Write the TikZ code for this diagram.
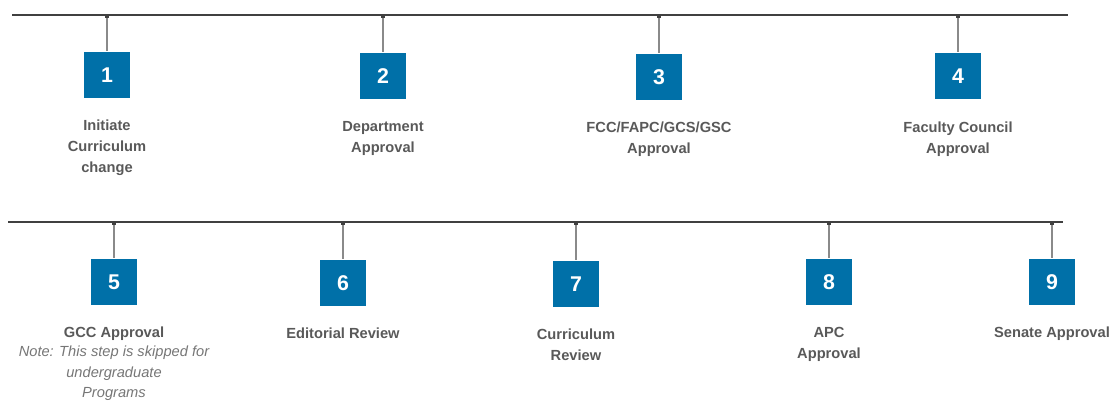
\documentclass[tikz,border=0pt]{standalone}
\usepackage{fontspec}
\setmainfont{Liberation Sans}
\usetikzlibrary{positioning}

\definecolor{stepblue}{HTML}{0070A8}
\definecolor{labelgray}{HTML}{595959}
\definecolor{notegray}{HTML}{767676}
\definecolor{axisgray}{HTML}{404040}
\definecolor{hanggray}{HTML}{8A8A8A}

\begin{document}
\begin{tikzpicture}[x=0.75pt,y=-0.75pt,
    stepbox/.style={rectangle, fill=stepblue, minimum size=35pt, inner sep=0pt,
      text=white, font=\bfseries\fontsize{16}{18}\selectfont},
    steplabel/.style={align=center, inner sep=0pt, text=labelgray,
      font=\bfseries\fontsize{11}{15.75}\selectfont},
    notelabel/.style={align=center, inner sep=0pt, text=notegray,
      font=\itshape\fontsize{11}{15.25}\selectfont},
    tick/.style={rectangle, fill=axisgray, minimum size=3pt, inner sep=0pt},
    axis/.style={draw=axisgray, line width=1.5pt},
    hang/.style={draw=hanggray, line width=1pt}]
    \useasboundingbox (0,0) rectangle (1113,401);

    % first row
    \coordinate (topstart) at (12,15);
    \coordinate (topend) at (1068,15);
    \draw[axis] (topstart) -- (topend);

    \node(s1) [stepbox] at (107,75) {1};
    \node(s2) [stepbox] at (383,76) {2};
    \node(s3) [stepbox] at (659,77) {3};
    \node(s4) [stepbox] at (958,76) {4};

    \node(t1) [tick] at (107,16) {};
    \node(t2) [tick] at (383,16) {};
    \node(t3) [tick] at (659,16) {};
    \node(t4) [tick] at (958,16) {};

    \node(l1) [steplabel, below=16pt of s1] {Initiate\\Curriculum\\change};
    \node(l2) [steplabel, below=16.5pt of s2] {Department\\Approval};
    \node(l3) [steplabel, below=16pt of s3] {FCC/FAPC/GCS/GSC\\Approval};
    \node(l4) [steplabel, below=16.5pt of s4] {Faculty Council\\Approval};

    \draw[hang] (t1) -- (s1.north);
    \draw[hang] (t2) -- (s2.north);
    \draw[hang] (t3) -- (s3.north);
    \draw[hang] (t4) -- (s4.north);

    % second row
    \coordinate (botstart) at (8,222);
    \coordinate (botend) at (1063,222);
    \draw[axis] (botstart) -- (botend);

    \node(s5) [stepbox] at (114,282) {5};
    \node(s6) [stepbox] at (343,283) {6};
    \node(s7) [stepbox] at (576,284) {7};
    \node(s8) [stepbox] at (829,282) {8};
    \node(s9) [stepbox] at (1052,282) {9};

    \node(t5) [tick] at (114,223) {};
    \node(t6) [tick] at (343,223) {};
    \node(t7) [tick] at (576,223) {};
    \node(t8) [tick] at (829,223) {};
    \node(t9) [tick] at (1052,223) {};

    \node(l5) [steplabel, below=15.5pt of s5] {GCC Approval};
    \node(n5) [notelabel, below=4pt of l5] {Note: This step is skipped for\\undergraduate\\Programs};
    \node(l6) [steplabel, below=16pt of s6] {Editorial Review};
    \node(l7) [steplabel, below=16pt of s7] {Curriculum\\Review};
    \node(l8) [steplabel, below=16pt of s8] {APC\\Approval};
    \node(l9) [steplabel, below=16pt of s9] {Senate Approval};

    \draw[hang] (t5) -- (s5.north);
    \draw[hang] (t6) -- (s6.north);
    \draw[hang] (t7) -- (s7.north);
    \draw[hang] (t8) -- (s8.north);
    \draw[hang] (t9) -- (s9.north);
\end{tikzpicture}
\end{document}
